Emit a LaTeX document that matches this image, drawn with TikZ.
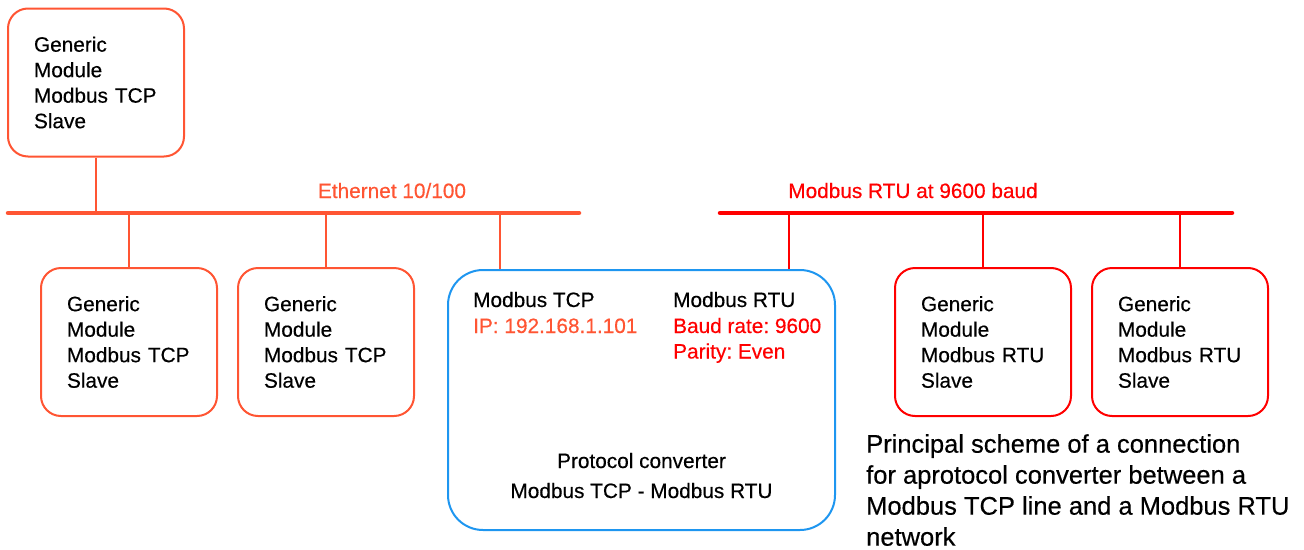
\documentclass[tikz,border=0pt]{standalone}
\usepackage{fontspec}
\setmainfont{Liberation Sans}[FakeBold=0.4]
\frenchspacing
\definecolor{eth}{HTML}{FF5533}
\definecolor{rtu}{HTML}{FF0000}
\definecolor{conv}{HTML}{1E96F0}
\newcommand{\boxfont}{\fontsize{20.8}{25.5}\selectfont}
\newcommand{\capfont}{\fontsize{25.5}{31}\selectfont}
\begin{document}
\begin{tikzpicture}[x=1pt,y=-1pt,
  modbox/.style={line width=2pt, rounded corners=20pt, minimum width=176pt,
    minimum height=148pt, text width=124pt, inner xsep=26pt, inner ysep=0pt,
    align=left, font=\boxfont, text=black},
  ebox/.style={modbox, draw=eth},
  rbox/.style={modbox, draw=rtu},
  convbox/.style={draw=conv, line width=2pt, rounded corners=35pt,
    minimum width=387pt, minimum height=260pt},
  lbl/.style={font=\boxfont, inner sep=0pt, anchor=base west},
  bus/.style={line width=4.5pt, line cap=round},
  drop/.style={line width=2pt}]
\useasboundingbox (0,0) rectangle (1304,549);
% boxes
\node[ebox] (top) at (96,82.5) {Generic\\Module\\Modbus TCP\\Slave};
\node[ebox] (e1) at (129,342) {Generic\\Module\\Modbus TCP\\Slave};
\node[ebox] (e2) at (326,342) {Generic\\Module\\Modbus TCP\\Slave};
\node[rbox] (r1) at (983,342) {Generic\\Module\\Modbus RTU\\Slave};
\node[rbox] (r2) at (1180,342) {Generic\\Module\\Modbus RTU\\Slave};
\node[convbox] (cv) at (641.5,400) {};
% converter texts
\node[lbl] (t1) at (473,307) {Modbus TCP};
\node[lbl, text=eth] (t2) at (473,333) {IP: 192.168.1.101};
\node[lbl] (t3) at (673,307) {Modbus RTU};
\node[lbl, text=rtu] (t4) at (673,333) {Baud rate: 9600};
\node[lbl, text=rtu] (t5) at (673,358.5) {Parity: Even};
\node[font=\boxfont, inner sep=0pt, anchor=base] (t6) at (641.5,468) {Protocol converter};
\node[font=\boxfont, inner sep=0pt, anchor=base] (t7) at (641.5,498) {Modbus TCP - Modbus RTU};
% buses
\coordinate (ethL) at (8,213);
\coordinate (ethR) at (579,213);
\coordinate (rtuL) at (720,213);
\coordinate (rtuR) at (1232,213);
\draw[bus, eth] (ethL) -- (ethR);
\draw[bus, rtu] (rtuL) -- (rtuR);
\node[font=\boxfont, text=eth, inner sep=0pt, anchor=base] (ethlbl) at (392,198) {Ethernet 10/100};
\node[font=\boxfont, text=rtu, inner sep=0pt, anchor=base] (rtulbl) at (913,198) {Modbus RTU at 9600 baud};
% drops
\draw[drop, eth] (top.south) -- (top.south |- ethL);
\draw[drop, eth] (e1.north) -- (e1.north |- ethL);
\draw[drop, eth] (e2.north) -- (e2.north |- ethL);
\coordinate (cvE) at (500,213);
\coordinate (cvR) at (789,213);
\draw[drop, eth] (cvE) -- (cvE |- cv.north);
\draw[drop, rtu] (cvR) -- (cvR |- cv.north);
\draw[drop, rtu] (r1.north) -- (r1.north |- rtuL);
\draw[drop, rtu] (r2.north) -- (r2.north |- rtuL);
% caption
\node[font=\capfont, align=left, inner sep=0pt, anchor=north west] (cap) at (866,434)
  {Principal scheme of a connection\\for aprotocol converter between a\\Modbus TCP line and a Modbus RTU\\network};
\end{tikzpicture}
\end{document}
